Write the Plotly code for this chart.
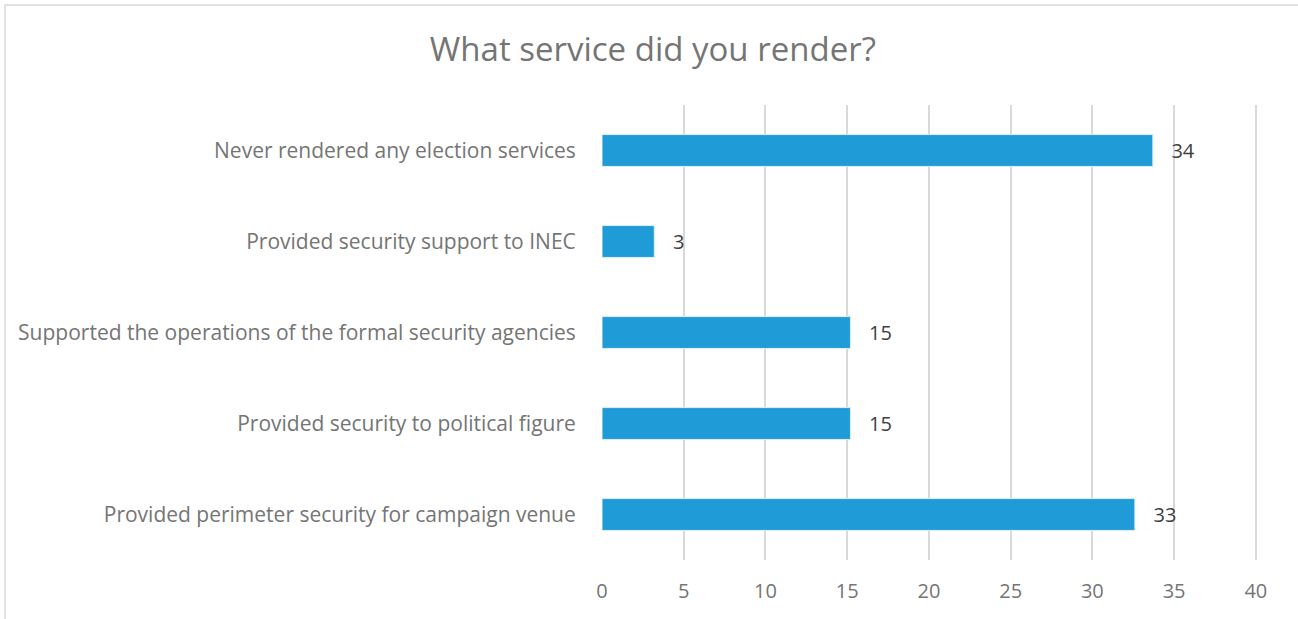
import plotly.graph_objects as go

categories = [
    "Provided perimeter security for campaign venue",
    "Provided security to political figure",
    "Supported the operations of the formal security agencies",
    "Provided security support to INEC",
    "Never rendered any election services",
]
values = [32.6, 15.2, 15.2, 3.2, 33.7]
labels = ["33", "15", "15", "3", "34"]
x_ticks = [0, 5, 10, 15, 20, 25, 30, 35, 40]

GRAY = "#757575"
FONT = "Open Sans"

fig = go.Figure(go.Bar(
    y=categories,
    x=values,
    orientation="h",
    marker=dict(color="#1F9BD7", line=dict(color="#DDEEF8", width=1)),
    width=0.35,
    text=["   " + t for t in labels],
    textposition="outside",
    textfont=dict(family=FONT, size=20, color="#404040"),
    cliponaxis=False,
))

fig.update_layout(
    width=1298, height=619,
    margin=dict(l=602, r=34, t=105, b=59),
    paper_bgcolor="white", plot_bgcolor="white",
    showlegend=False,
    title=dict(text="What service did you render?", x=0.503, xref="container",
               y=0.92, yref="container", xanchor="center", yanchor="middle",
               font=dict(family=FONT, size=33, color=GRAY)),
    xaxis=dict(range=[0, 40.5], tickvals=x_ticks, showgrid=True, gridcolor="#D9D9D9",
               gridwidth=1.5, zeroline=False, showline=False,
               ticks="outside", ticklen=13, tickcolor="rgba(0,0,0,0)",
               tickfont=dict(family=FONT, size=20, color=GRAY)),
    yaxis=dict(showgrid=False, zeroline=False, showline=False,
               ticks="outside", ticklen=21, tickcolor="rgba(0,0,0,0)",
               tickfont=dict(family=FONT, size=21, color=GRAY)),
    shapes=[dict(type="rect", xref="paper", yref="paper",
                 x0=(5 - 602) / 662, x1=(1310 - 602) / 662,
                 y0=(560 - 630) / 455, y1=(560 - 5) / 455,
                 line=dict(color="#D9D9D9", width=1.5), layer="below")],
)

fig.write_html("out.html")
